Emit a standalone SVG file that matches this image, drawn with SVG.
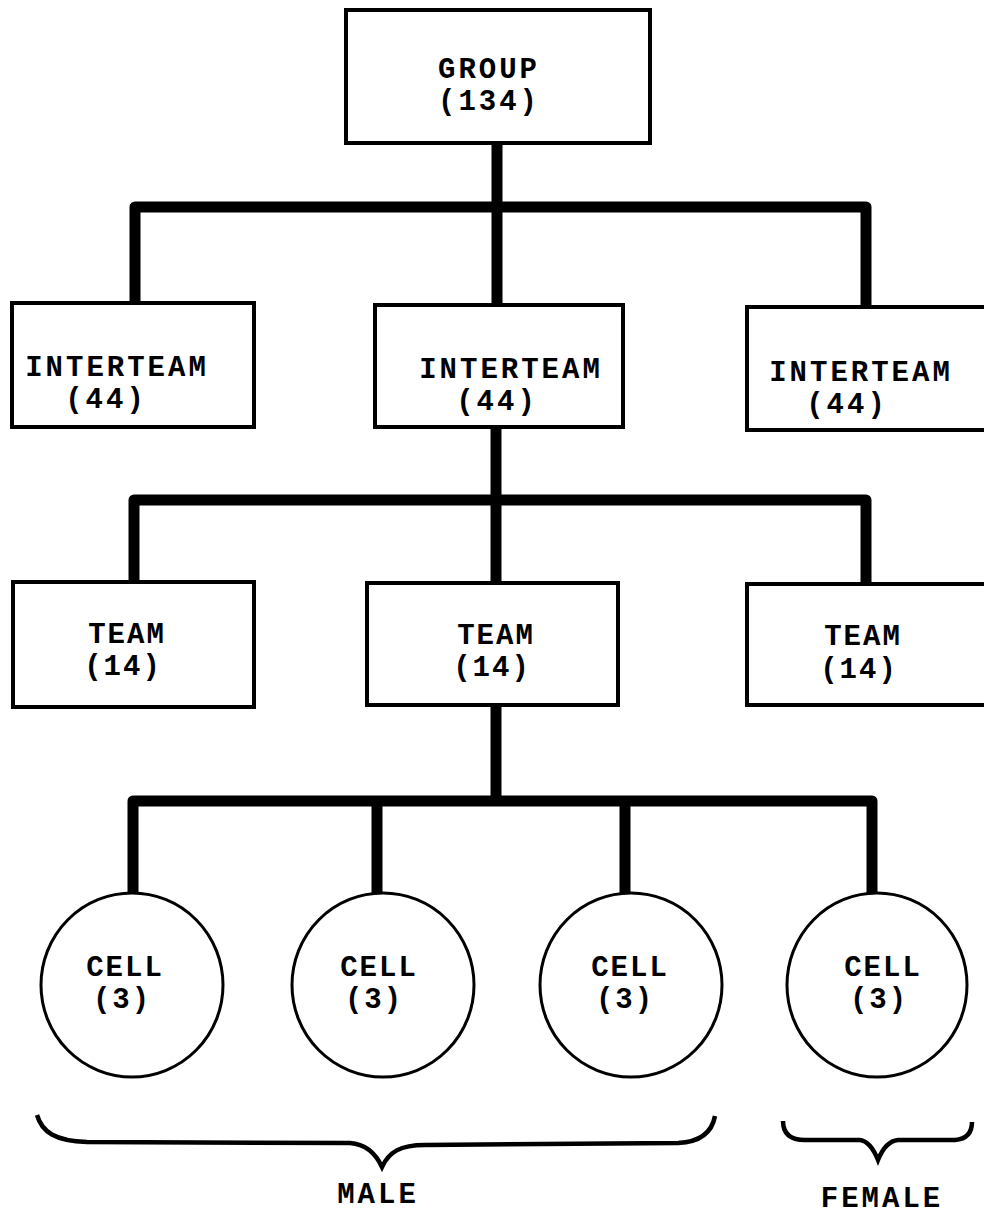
<svg xmlns="http://www.w3.org/2000/svg" width="984" height="1214" viewBox="0 0 984 1214">
<style>
.box{fill:#fff;stroke:#000;stroke-width:4}
.cell{fill:#fff;stroke:#000;stroke-width:3}
.bar{fill:none;stroke:#000;stroke-width:11;stroke-linejoin:round;stroke-linecap:butt}
.brace{fill:none;stroke:#000;stroke-width:4.5;stroke-linejoin:miter}
text{font-family:"Liberation Mono","DejaVu Sans Mono",monospace;font-weight:bold;font-size:29px;fill:#000;text-anchor:middle;letter-spacing:3px}
.n{letter-spacing:2px}
</style>
<rect width="984" height="1214" fill="#fff"/>
<g id="connectors">
<path class="bar" d="M497,143 V207"/>
<path class="bar" d="M135,303 V207 H866 V307"/>
<path class="bar" d="M497,207 V305"/>
<path class="bar" d="M496,427 V500"/>
<path class="bar" d="M134,582 V500 H866 V584"/>
<path class="bar" d="M496,500 V583"/>
<path class="bar" d="M496,705 V801"/>
<path class="bar" d="M133,900 V801 H872 V900"/>
<path class="bar" d="M377,801 V900"/>
<path class="bar" d="M625,801 V900"/>
</g>
<g id="group">
<rect class="box" x="346" y="10" width="304" height="133"/>
<text x="489" y="78">GROUP</text>
<text x="489" y="110">(134)</text>
</g>
<g id="interteam-left">
<rect class="box" x="12" y="303" width="242" height="124"/>
<text x="117" y="376">INTERTEAM</text>
<text x="106" y="408">(44)</text>
</g>
<g id="interteam-middle">
<rect class="box" x="375" y="305" width="248" height="122"/>
<text x="511" y="378">INTERTEAM</text>
<text x="497" y="410">(44)</text>
</g>
<g id="interteam-right">
<rect class="box" x="747" y="307" width="243" height="123"/>
<text x="861" y="381">INTERTEAM</text>
<text x="847" y="413">(44)</text>
</g>
<g id="team-left">
<rect class="box" x="13" y="582" width="241" height="125"/>
<text class="n" x="127" y="643">TEAM</text>
<text class="n" x="123" y="675">(14)</text>
</g>
<g id="team-middle">
<rect class="box" x="367" y="583" width="251" height="122"/>
<text class="n" x="496" y="644">TEAM</text>
<text class="n" x="492" y="676">(14)</text>
</g>
<g id="team-right">
<rect class="box" x="747" y="584" width="243" height="121"/>
<text class="n" x="863" y="645">TEAM</text>
<text class="n" x="859" y="678">(14)</text>
</g>
<g id="cell-1">
<ellipse class="cell" cx="132" cy="985" rx="91" ry="92"/>
<text class="n" x="125" y="976">CELL</text>
<text class="n" x="122" y="1008">(3)</text>
</g>
<g id="cell-2">
<ellipse class="cell" cx="383" cy="985" rx="91" ry="92"/>
<text class="n" x="379" y="976">CELL</text>
<text class="n" x="374" y="1008">(3)</text>
</g>
<g id="cell-3">
<ellipse class="cell" cx="631" cy="985" rx="91" ry="92"/>
<text class="n" x="630" y="976">CELL</text>
<text class="n" x="625" y="1008">(3)</text>
</g>
<g id="cell-4">
<ellipse class="cell" cx="877" cy="985" rx="90" ry="92"/>
<text class="n" x="883" y="976">CELL</text>
<text class="n" x="879" y="1008">(3)</text>
</g>
<g id="brace-male">
<path class="brace" d="M37,1115 C42,1132 55,1141 87,1142 L350,1143 C365,1144 375,1152 382,1167 C389,1152 400,1145 425,1145 L678,1143 C700,1142 712,1132 715,1116"/>
<text x="378" y="1203">MALE</text>
</g>
<g id="brace-female">
<path class="brace" d="M783,1121 C783,1133 790,1140 805,1140 L860,1140 C868,1141 874,1150 878,1160 C882,1150 888,1141 898,1140 L955,1140 C967,1139 972,1132 972,1122"/>
<text x="882" y="1207">FEMALE</text>
</g>
</svg>
